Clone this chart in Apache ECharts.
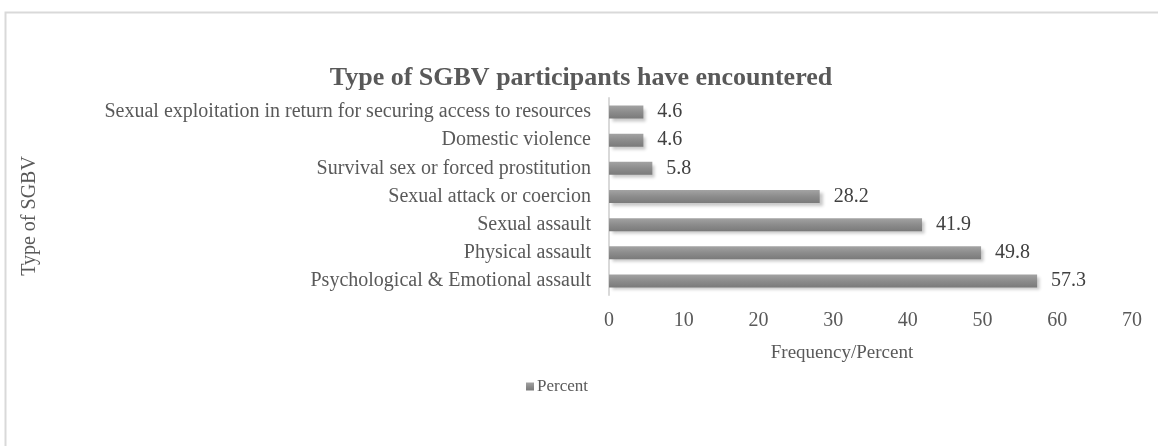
<!DOCTYPE html>
<html>
<head>
<meta charset="utf-8">
<script src="https://cdn.jsdelivr.net/npm/echarts@6/dist/echarts.min.js"></script>
<style>html,body{margin:0;padding:0;background:#fff;}#c{width:1158px;height:446px;}</style>
</head>
<body>
<div id="c"></div>
<script>
const categories = [
  "Sexual exploitation in return for securing access to resources",
  "Domestic violence",
  "Survival sex or forced prostitution",
  "Sexual attack or coercion",
  "Sexual assault",
  "Physical assault",
  "Psychological & Emotional assault"
];
const percentValues = [4.6, 4.6, 5.8, 28.2, 41.9, 49.8, 57.3];
const xTicks = [0, 10, 20, 30, 40, 50, 60, 70];
const seriesName = "Percent";
const titleText = "Type of SGBV participants have encountered";
const xName = "Frequency/Percent";
const yName = "Type of SGBV";

const FONT = "'Liberation Serif', 'Times New Roman', serif";
const chart = echarts.init(document.getElementById('c'), null, {renderer: 'canvas'});
chart.setOption({
  animation: false,
  backgroundColor: '#ffffff',
  textStyle: {fontFamily: FONT},
  title: {
    text: titleText,
    left: 576, top: 60, textAlign: 'center',
    textStyle: {fontFamily: FONT, fontSize: 26, fontWeight: 'bold', color: '#595959'}
  },
  legend: {
    data: [seriesName],
    left: 521, top: 373,
    icon: 'rect', itemWidth: 8, itemHeight: 8, itemGap: 4,
    textStyle: {fontFamily: FONT, fontSize: 17, color: '#595959', padding: [0, 0, 0, -2]}
  },
  grid: {left: 609, right: 26, top: 98, height: 197, containLabel: false},
  xAxis: {
    type: 'value', min: xTicks[0], max: xTicks[xTicks.length - 1], interval: 10,
    axisLine: {show: false}, axisTick: {show: false}, splitLine: {show: false},
    axisLabel: {fontFamily: FONT, fontSize: 20, color: '#595959', margin: 16}
  },
  yAxis: {
    type: 'category', data: categories, inverse: true,
    axisLine: {show: true, lineStyle: {color: '#d9d9d9', width: 2}},
    axisTick: {show: false},
    axisLabel: {fontFamily: FONT, fontSize: 20, color: '#595959', margin: 18}
  },
  series: [{
    name: seriesName, type: 'bar', data: percentValues, barWidth: 13,
    itemStyle: {
      color: new echarts.graphic.LinearGradient(0, 0, 0, 1, [
        {offset: 0, color: '#a3a3a3'},
        {offset: 0.5, color: '#8c8c8c'},
        {offset: 1, color: '#7a7a7a'}
      ]),
      shadowColor: 'rgba(0,0,0,0.22)', shadowBlur: 3, shadowOffsetX: 3, shadowOffsetY: 3
    },
    label: {show: true, position: 'right', distance: 14, fontFamily: FONT, fontSize: 20, color: '#404040'}
  }],
  graphic: [
    {type: 'rect', shape: {x: 5.5, y: 12.5, width: 1160, height: 440}, style: {fill: 'none', stroke: '#d9d9d9', lineWidth: 2}, silent: true},
    {type: 'text', x: 842, y: 353, style: {text: xName, fontFamily: FONT, fontSize: 19, fill: '#595959', align: 'center', verticalAlign: 'middle'}},
    {type: 'text', x: 30, y: 216, rotation: Math.PI / 2, style: {text: yName, fontFamily: FONT, fontSize: 20, fill: '#595959', align: 'center', verticalAlign: 'middle'}}
  ]
});
</script>
</body>
</html>
